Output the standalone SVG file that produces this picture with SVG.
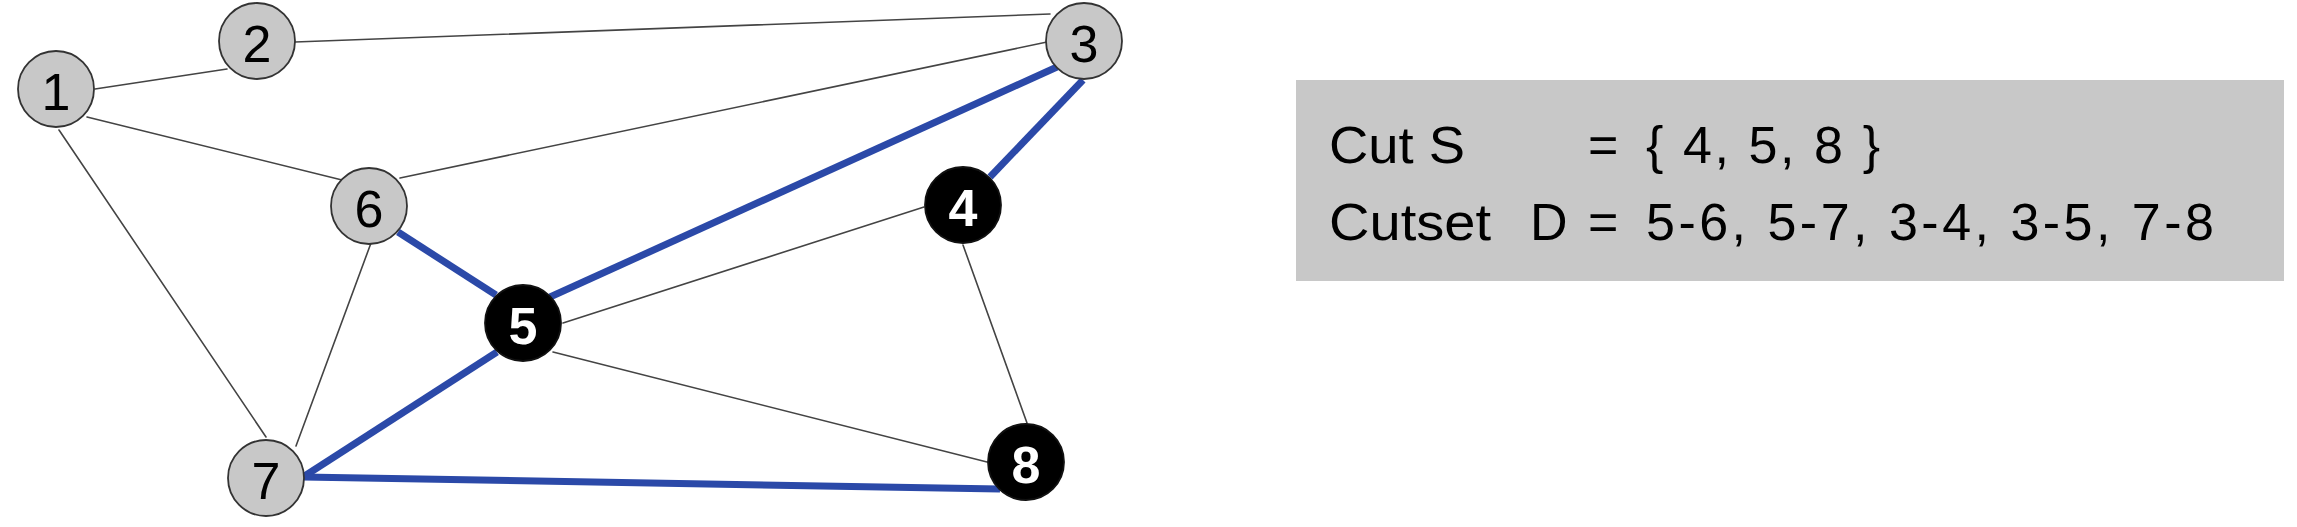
<svg xmlns="http://www.w3.org/2000/svg" width="2297" height="527" viewBox="0 0 2297 527">
<style>
.thin{stroke:#444;stroke-width:1.6;fill:none;stroke-linecap:round}
.cut{stroke:#2b49a8;stroke-width:7;fill:none;stroke-linecap:butt}
.g circle{fill:#c8c8c8;stroke:#333;stroke-width:1.8}
.b circle{fill:#000;stroke:#111;stroke-width:1.8}
.g text{font-family:"Liberation Sans",Arial,sans-serif;font-size:52px;fill:#000;text-anchor:middle}
.b text{font-family:"Liberation Sans",Arial,sans-serif;font-size:52px;font-weight:bold;fill:#fff;text-anchor:middle}
.lbl{font-family:"Liberation Sans",Arial,sans-serif;font-size:52px;fill:#000}
</style>
<rect width="2297" height="527" fill="#fff"/>
<g id="connectors">
<line class="thin" x1="95" y1="89" x2="227" y2="69"/>
<line class="thin" x1="295" y1="42" x2="1050" y2="14"/>
<line class="thin" x1="87" y1="117" x2="342" y2="180"/>
<line class="thin" x1="59" y1="130" x2="266" y2="437"/>
<line class="thin" x1="371" y1="243" x2="296" y2="446"/>
<line class="thin" x1="400" y1="178" x2="1047" y2="42"/>
<line class="thin" x1="563" y1="323" x2="924" y2="207"/>
<line class="thin" x1="553" y1="352" x2="987" y2="462"/>
<line class="thin" x1="963" y1="245" x2="1027" y2="423"/>
<line class="cut" x1="398" y1="232" x2="496" y2="295"/>
<line class="cut" x1="550" y1="297" x2="1057" y2="67"/>
<line class="cut" x1="1083" y1="80" x2="990" y2="177"/>
<line class="cut" x1="497" y1="352" x2="303" y2="477"/>
<line class="cut" x1="303" y1="477" x2="1000" y2="489"/>
</g>
<g id="node1" class="g"><circle cx="56" cy="89" r="38"/><text x="56" y="110">1</text></g>
<g id="node2" class="g"><circle cx="257" cy="41" r="38"/><text x="257" y="62">2</text></g>
<g id="node3" class="g"><circle cx="1084" cy="41" r="38"/><text x="1084" y="62">3</text></g>
<g id="node4" class="b"><circle cx="963" cy="205" r="38"/><text x="963" y="226">4</text></g>
<g id="node5" class="b"><circle cx="523" cy="323" r="38"/><text x="523" y="344">5</text></g>
<g id="node6" class="g"><circle cx="369" cy="206" r="38"/><text x="369" y="227">6</text></g>
<g id="node7" class="g"><circle cx="266" cy="478" r="38"/><text x="266" y="499">7</text></g>
<g id="node8" class="b"><circle cx="1026" cy="462" r="38"/><text x="1026" y="483">8</text></g>
<g id="legend">
<rect x="1296" y="80" width="988" height="201" fill="#c8c8c8"/>
<text class="lbl" x="1329" y="163" textLength="136" lengthAdjust="spacingAndGlyphs">Cut S</text>
<text class="lbl" x="1588" y="163">=</text>
<text class="lbl" x="1646" y="163" textLength="234" lengthAdjust="spacing">{ 4, 5, 8 }</text>
<text class="lbl" x="1329" y="240" textLength="162" lengthAdjust="spacingAndGlyphs">Cutset</text>
<text class="lbl" x="1530" y="240">D</text>
<text class="lbl" x="1588" y="240">=</text>
<text class="lbl" x="1646" y="240" textLength="568" lengthAdjust="spacing">5-6, 5-7, 3-4, 3-5, 7-8</text>
</g>
</svg>
